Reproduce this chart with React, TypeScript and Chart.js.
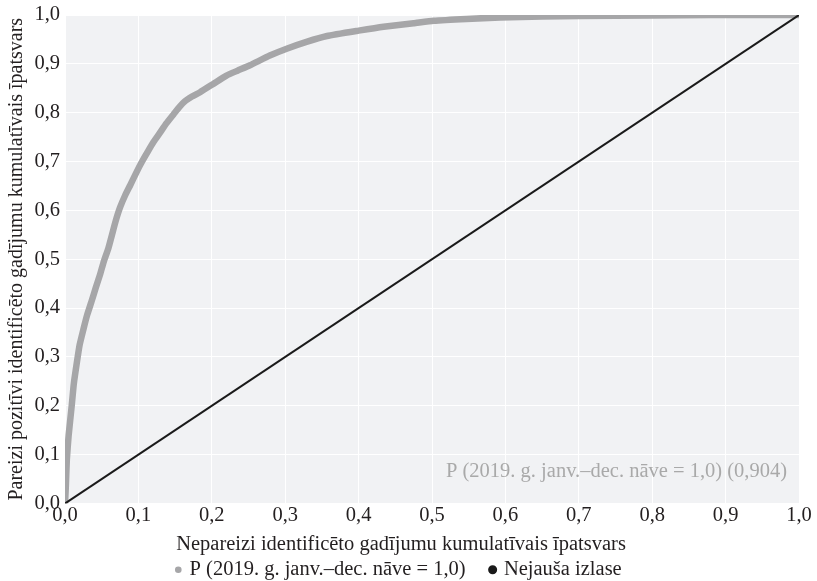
import React, { useEffect, useRef } from "react";
import { Chart, registerables } from "chart.js";

Chart.register(...registerables);

// ---- data ----
const rocFpr = [
  0, 0.001, 0.0025, 0.005, 0.009, 0.012, 0.016, 0.02, 0.025, 0.03, 0.036, 0.042, 0.048, 0.053, 0.059,
  0.064, 0.069, 0.075, 0.082, 0.089, 0.098, 0.105, 0.113, 0.121, 0.129, 0.138, 0.148, 0.156, 0.163,
  0.173, 0.184, 0.202, 0.22, 0.235, 0.252, 0.279, 0.302, 0.329, 0.357, 0.4, 0.434, 0.475, 0.502,
  0.547, 0.593, 0.65, 0.7, 0.8, 0.88, 1.0,
];
const rocTpr = [
  0, 0.03, 0.09, 0.14, 0.198, 0.245, 0.287, 0.325, 0.356, 0.385, 0.413, 0.442, 0.47, 0.496, 0.522,
  0.55, 0.578, 0.606, 0.631, 0.652, 0.68, 0.7, 0.721, 0.741, 0.758, 0.778, 0.797, 0.812, 0.823,
  0.833, 0.842, 0.859, 0.876, 0.886, 0.897, 0.917, 0.931, 0.945, 0.957, 0.968, 0.976, 0.983, 0.988,
  0.992, 0.995, 0.997, 0.998, 0.999, 1.0, 1.0,
];
const randomFpr = [0, 1];
const randomTpr = [0, 1];

const axisMin = 0;
const axisMax = 1;
const axisStep = 0.1;

const seriesLabel = "P (2019. g. janv.–dec. nāve = 1,0)";
const randomLabel = "Nejauša izlase";
const aucLabel = "P (2019. g. janv.–dec. nāve = 1,0) (0,904)";
const xTitle = "Nepareizi identificēto gadījumu kumulatīvais īpatsvars";
const yTitle = "Pareizi pozitīvi identificēto gadījumu kumulatīvais īpatsvars";

// ---- styles ----
const FONT = "'Liberation Serif', 'DejaVu Serif', serif";
const FONT_SIZE = 20.5;
const Y_TITLE_SIZE = 20;
const TEXT_COLOR = "#231f20";
const ROC_COLOR = "#a6a6a8";
const RANDOM_COLOR = "#1a1a1a";
const PLOT_BG = "#f1f2f4";
const AUC_COLOR = "#a9a9a9";

const fmt = (v: number) => v.toFixed(1).replace(".", ",");

const decorPlugin = {
  id: "decor",
  beforeDraw(chart: any) {
    const { ctx, chartArea } = chart;
    if (!chartArea) return;
    ctx.save();
    ctx.fillStyle = PLOT_BG;
    ctx.fillRect(chartArea.left, chartArea.top, chartArea.right - chartArea.left, chartArea.bottom - chartArea.top);
    ctx.restore();
  },
  afterDraw(chart: any) {
    const { ctx, chartArea } = chart;
    ctx.save();
    ctx.font = `${FONT_SIZE}px ${FONT}`;
    ctx.textBaseline = "middle";
    // AUC annotation inside the plot
    ctx.fillStyle = AUC_COLOR;
    ctx.textAlign = "right";
    ctx.fillText(aucLabel, chartArea.right - 12, chartArea.bottom - 32);
    // x axis title
    ctx.fillStyle = TEXT_COLOR;
    ctx.textAlign = "center";
    ctx.fillText(xTitle, 401, chartArea.bottom + 41);
    ctx.restore();
  },
};

export default function App() {
  const ref = useRef<HTMLCanvasElement | null>(null);

  useEffect(() => {
    document.body.style.margin = "0";
    const canvas = ref.current;
    if (!canvas) return;
    Chart.defaults.font.family = FONT;
    Chart.defaults.font.size = FONT_SIZE;
    Chart.defaults.color = TEXT_COLOR;

    const rocData = rocFpr.map((x, i) => ({ x, y: rocTpr[i] }));
    const randomData = randomFpr.map((x, i) => ({ x, y: randomTpr[i] }));

    const chart = new Chart(canvas, {
      type: "scatter",
      data: {
        datasets: [
          {
            label: seriesLabel,
            data: rocData,
            showLine: true,
            borderColor: ROC_COLOR,
            backgroundColor: ROC_COLOR,
            borderWidth: 6.5,
            pointRadius: 0,
            tension: 0.15,
            order: 1,
          },
          {
            label: randomLabel,
            data: randomData,
            showLine: true,
            borderColor: RANDOM_COLOR,
            backgroundColor: RANDOM_COLOR,
            borderWidth: 2,
            pointRadius: 0,
            order: 0,
          },
        ],
      },
      options: {
        animation: false,
        responsive: false,
        devicePixelRatio: 1,
        layout: { padding: { top: 15, right: 18, left: 0, bottom: -9 } },
        scales: {
          x: {
            type: "linear",
            min: axisMin,
            max: axisMax,
            ticks: {
              stepSize: axisStep,
              padding: 0,
              color: TEXT_COLOR,
              font: { family: FONT, size: FONT_SIZE },
              callback: (v: any) => fmt(Number(v)),
            },
            grid: { color: "#ffffff", lineWidth: 1, drawTicks: false },
            border: { display: false },
            afterFit: (s: any) => {
              s.height = 30;
              s.paddingLeft = 0;
              s.paddingRight = 0;
            },
          },
          y: {
            type: "linear",
            min: axisMin,
            max: axisMax,
            ticks: {
              stepSize: axisStep,
              padding: 5,
              color: TEXT_COLOR,
              font: { family: FONT, size: FONT_SIZE },
              callback: (v: any) => fmt(Number(v)),
            },
            grid: { color: "#ffffff", lineWidth: 1, drawTicks: false },
            border: { display: false },
            title: {
              display: true,
              text: yTitle,
              color: TEXT_COLOR,
              font: { family: FONT, size: Y_TITLE_SIZE },
              padding: { top: 5, bottom: 0 },
            },
            afterFit: (s: any) => {
              s.width = 65;
              s.paddingTop = 0;
              s.paddingBottom = 0;
            },
          },
        },
        plugins: {
          tooltip: { enabled: false },
          legend: {
            position: "bottom",
            labels: {
              usePointStyle: true,
              boxWidth: 2,
              boxHeight: 4.7,
              padding: 26,
              color: TEXT_COLOR,
              font: { family: FONT, size: FONT_SIZE },
              generateLabels: () => [
                {
                  text: seriesLabel,
                  fillStyle: ROC_COLOR,
                  strokeStyle: ROC_COLOR,
                  lineWidth: 0,
                  pointStyle: "circle",
                  hidden: false,
                  datasetIndex: 0,
                  fontColor: TEXT_COLOR,
                },
                {
                  text: randomLabel,
                  fillStyle: RANDOM_COLOR,
                  strokeStyle: RANDOM_COLOR,
                  lineWidth: 2.4,
                  pointStyle: "circle",
                  hidden: false,
                  datasetIndex: 1,
                  fontColor: TEXT_COLOR,
                },
              ],
            },
          },
        },
      } as any,
      plugins: [decorPlugin],
    });
    return () => chart.destroy();
  }, []);

  return (
    <div style={{ width: 817, height: 581, position: "relative" }}>
      <canvas ref={ref} width={817} height={581} style={{ display: "block" }} />
    </div>
  );
}
